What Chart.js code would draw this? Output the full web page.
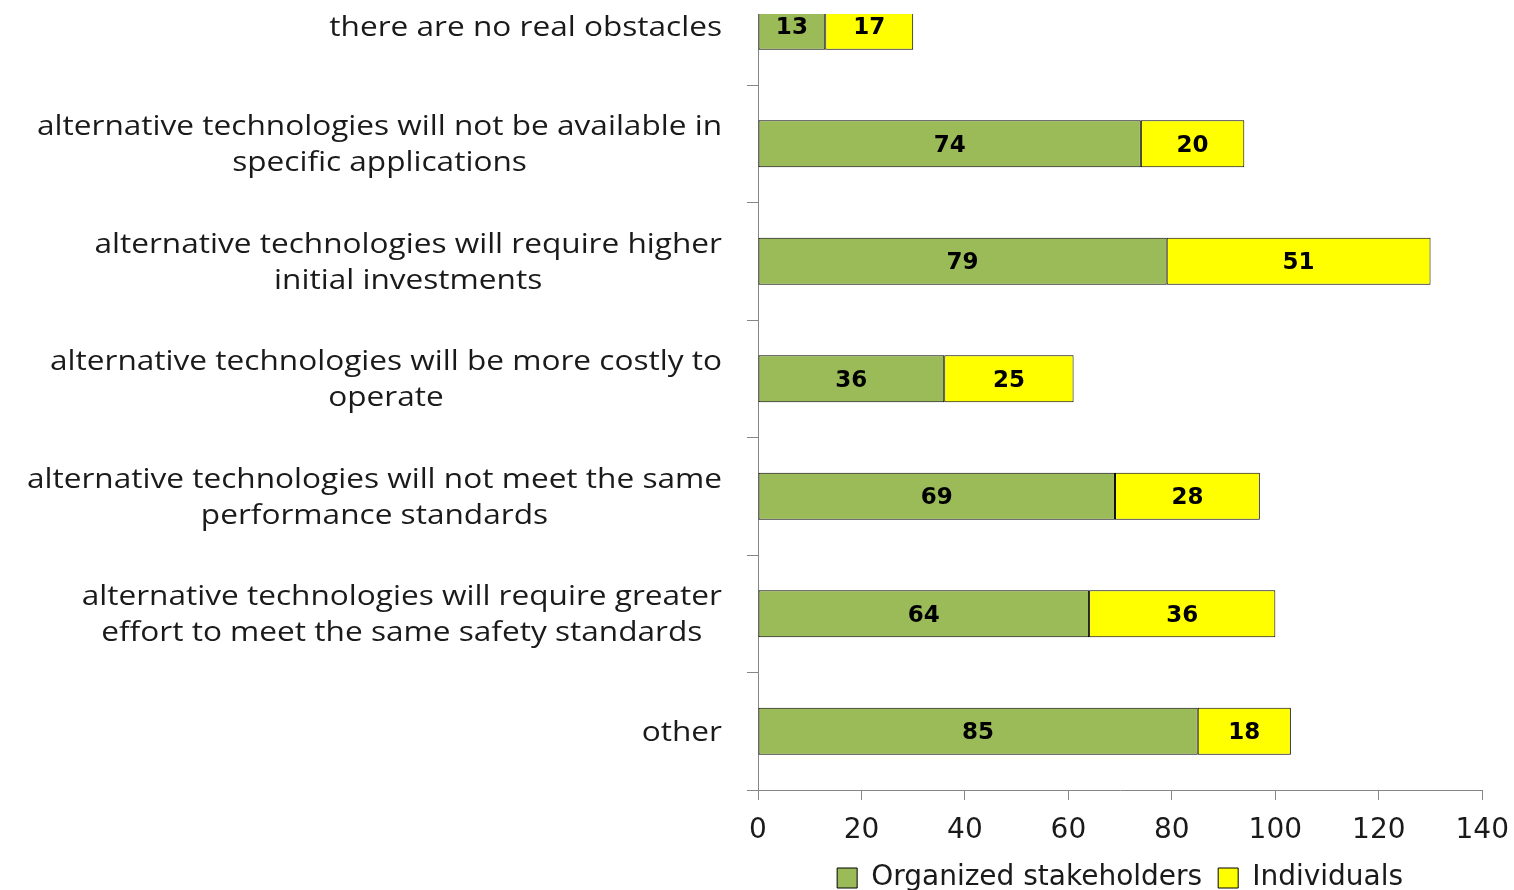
<!DOCTYPE html>
<html>
<head>
<meta charset="utf-8">
<script src="https://cdn.jsdelivr.net/npm/chart.js@4"></script>
<style>
  html, body { margin: 0; padding: 0; background: #fff; overflow: hidden; }
  #clip { position: absolute; left: 0; top: 14px; width: 1514px; height: 876px; overflow: hidden; }
  #wrap { position: absolute; left: 0; top: -54px; width: 1523px; height: 942px; }
</style>
</head>
<body>
<div id="clip"><div id="wrap"><canvas id="myChart"></canvas></div></div>
<script>
var categories = [
  ["there are no real obstacles"],
  ["alternative technologies will not be available in", "specific applications"],
  ["alternative technologies will require higher", "initial investments"],
  ["alternative technologies will be more costly to", "operate"],
  ["alternative technologies will not meet the same", "performance standards"],
  ["alternative technologies will require greater", "effort to meet the same safety standards"],
  ["other"]
];
var organized = [13, 74, 79, 36, 69, 64, 85];
var individuals = [17, 20, 51, 25, 28, 36, 18];
var xTicks = [0, 20, 40, 60, 80, 100, 120, 140];

var axisGray = "#868686";
var textColor = "#1a1a1a";

// value in the middle of each bar piece
var valueLabels = {
  id: "valueLabels",
  afterDatasetsDraw: function(chart) {
    var ctx = chart.ctx;
    ctx.save();
    ctx.font = 'bold 23px "DejaVu Sans"';
    ctx.fillStyle = "#000";
    ctx.textAlign = "center";
    ctx.textBaseline = "middle";
    chart.data.datasets.forEach(function(ds, i) {
      chart.getDatasetMeta(i).data.forEach(function(bar, j) {
        var p = bar.getCenterPoint();
        ctx.fillText(ds.data[j], p.x, p.y + 2);
      });
    });
    ctx.restore();
  }
};

// category text: block right aligned at the axis, lines centred in the block
var categoryText = {
  id: "categoryText",
  afterDraw: function(chart) {
    var ctx = chart.ctx;
    var y = chart.scales.y;
    var sx = 1.17;
    var right = 722;
    var lineH = 36;
    ctx.save();
    ctx.font = '27px "Open Sans"';
    ctx.fillStyle = textColor;
    ctx.textAlign = "center";
    ctx.textBaseline = "middle";
    chart.data.labels.forEach(function(lines, i) {
      var w = 0;
      lines.forEach(function(l) { w = Math.max(w, ctx.measureText(l).width * sx); });
      var cx = right - w / 2;
      var cy = y.getPixelForValue(i) + 2 - (lines.length - 1) * lineH / 2;
      lines.forEach(function(l, k) {
        ctx.save();
        ctx.translate(cx, cy + k * lineH);
        ctx.scale(sx, 1);
        ctx.fillText(l, 0, 0);
        ctx.restore();
      });
    });
    ctx.restore();
  }
};

new Chart("myChart", {
  type: "bar",
  data: {
    labels: categories,
    datasets: [{
      label: "Organized stakeholders",
      data: organized,
      backgroundColor: "#9BBB59",
      borderColor: "#000",
      borderWidth: 1,
      borderSkipped: false
    }, {
      label: "Individuals",
      data: individuals,
      backgroundColor: "#FFFF00",
      borderColor: "#000",
      borderWidth: 1,
      borderSkipped: false
    }]
  },
  plugins: [valueLabels, categoryText],
  options: {
    indexAxis: "y",
    responsive: true,
    maintainAspectRatio: false,
    animation: false,
    layout: { padding: { top: 7.5, right: 0, left: 0, bottom: 0 } },
    datasets: { bar: { categoryPercentage: 1, barPercentage: 0.4 } },
    scales: {
      x: {
        stacked: true,
        min: 0,
        max: 140,
        afterBuildTicks: function(scale) {
          scale.ticks = xTicks.map(function(v) { return { value: v }; });
        },
        afterFit: function(scale) { scale.height = 58; },
        grid: { display: true, drawOnChartArea: false, drawTicks: true, tickLength: 10, color: axisGray },
        border: { display: true, color: axisGray, width: 1 },
        ticks: { font: { family: "DejaVu Sans", size: 28 }, color: textColor, padding: 14, maxRotation: 0 }
      },
      y: {
        stacked: true,
        grid: { display: true, drawOnChartArea: false, drawTicks: true, tickLength: 11, offset: true, color: axisGray },
        border: { display: true, color: axisGray, width: 1 },
        ticks: { display: false },
        afterFit: function(scale) { scale.width = 758; }
      }
    },
    plugins: {
      legend: {
        position: "bottom",
        fullSize: false,
        labels: {
          font: { family: "DejaVu Sans", size: 28 },
          color: textColor,
          boxWidth: 20,
          boxHeight: 20,
          padding: 16
        }
      },
      tooltip: { enabled: false }
    }
  }
});
</script>
</body>
</html>
